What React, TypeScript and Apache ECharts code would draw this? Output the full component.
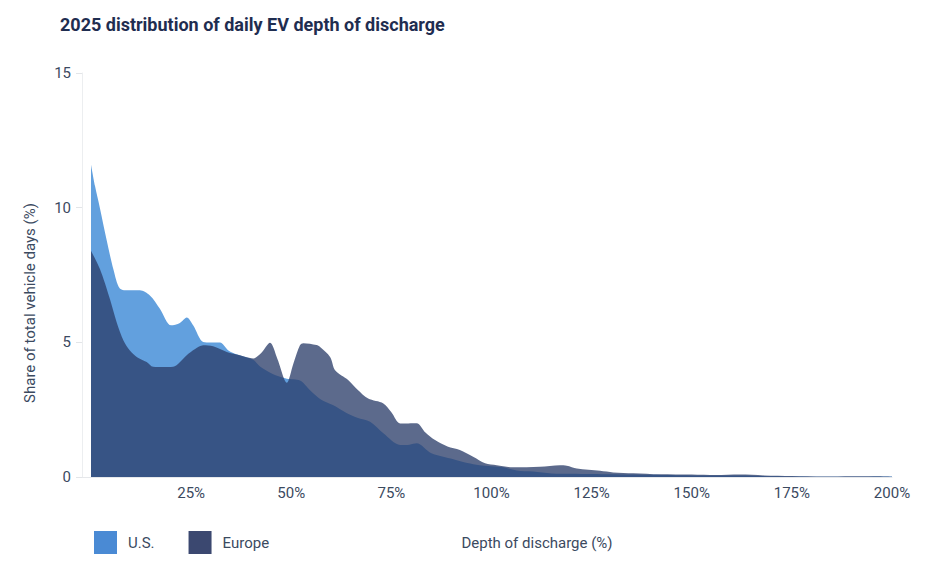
import React, { useEffect, useRef } from 'react';
import * as echarts from 'echarts';

// Depth of discharge (%) and share of vehicle days (%)
const usDepth = [
  0, 1, 2.2, 3.9, 5.6, 7.2, 9.5, 12.2, 14.7, 17.2, 20, 22.2, 23.9, 25.5, 28, 30, 32.2, 34.3,
  36.5, 40.5, 42.2, 45, 47.2, 48.9, 52.2, 54.7, 57.2, 60.4, 63.8, 66.5, 69.7, 73, 77.2, 79.5,
  81.3, 85, 90.5, 94, 97, 103, 106.3, 110.4, 115, 120, 130, 140, 150, 162, 170, 185, 200,
];
const usShare = [
  11.6, 10.8, 10.0, 8.8, 7.7, 7.0, 6.93, 6.93, 6.74, 6.25, 5.63, 5.72, 5.92, 5.63, 5.01, 4.99,
  4.99, 4.7, 4.55, 4.35, 4.1, 3.85, 3.72, 3.65, 3.58, 3.22, 2.9, 2.67, 2.38, 2.2, 2.05, 1.62,
  1.19, 1.2, 1.25, 0.88, 0.66, 0.52, 0.44, 0.36, 0.24, 0.2, 0.13, 0.12, 0.1, 0.08, 0.06, 0.06,
  0.03, 0.01, 0.02,
];

const euDepth = [
  0, 2.2, 4.7, 6.4, 8.1, 9.7, 11.5, 13.9, 15.5, 18, 20.5, 23.9, 26, 28, 30.5, 33.9, 37.2, 40.5,
  42.5, 44.7, 46.5, 48.9, 50.5, 52.2, 53, 56.3, 57.2, 59.7, 61, 64.2, 66.5, 69.2, 73, 75, 77.2,
  81.3, 83.5, 85.9, 89, 92.1, 95.4, 98.4, 101.3, 105.4, 112.1, 117.1, 118.8, 121.3, 127.1,
  130.4, 135.4, 142, 150, 156, 162, 168, 175, 183, 190, 196, 200,
];
const euShare = [
  8.4, 7.73, 6.62, 5.75, 5.07, 4.7, 4.45, 4.27, 4.09, 4.08, 4.09, 4.52, 4.75, 4.89, 4.85, 4.64,
  4.52, 4.4, 4.6, 4.98, 4.4, 3.5, 4.2, 4.9, 4.97, 4.9, 4.83, 4.46, 3.95, 3.6, 3.25, 2.91, 2.73,
  2.4, 1.99, 2.0, 1.65, 1.37, 1.13, 1.0, 0.75, 0.51, 0.44, 0.36, 0.38, 0.44, 0.42, 0.32, 0.23,
  0.17, 0.14, 0.1, 0.09, 0.07, 0.09, 0.06, 0.04, 0.02, 0.03, 0.03, 0.01,
];

// x tick labels shown on the axis
const depthTicks = [25, 50, 75, 100, 125, 150, 175, 200];

const seriesNames = ['U.S.', 'Europe'];

const textColor = '#3b4a5f';
const font = 'Roboto, "Noto Sans", sans-serif';

const App: React.FC = () => {
  const chartRef = useRef<HTMLDivElement>(null);

  useEffect(() => {
    if (!chartRef.current) return;
    const chart = echarts.init(chartRef.current, undefined, { renderer: 'svg' });

    const toPairs = (xs: number[], ys: number[]) => xs.map((x, i) => [x, ys[i]]);

    const option: echarts.EChartsOption = {
      animation: false,
      textStyle: { fontFamily: font },
      title: {
        text: '2025 distribution of daily EV depth of discharge',
        left: 55,
        top: 10,
        textStyle: { fontSize: 18, fontWeight: 'bold', color: '#1f2d50', fontFamily: font },
      },
      legend: {
        data: seriesNames,
        left: 89,
        top: 526,
        icon: 'rect',
        itemWidth: 23,
        itemHeight: 23,
        itemGap: 34,
        textStyle: { fontSize: 15, color: textColor, padding: [0, 0, 0, 6] },
      },
      grid: { left: 82, right: 44, top: 73, bottom: 93 },
      xAxis: {
        type: 'value',
        min: -2.25,
        max: 200,
        name: 'Depth of discharge (%)',
        nameLocation: 'middle',
        nameGap: 58,
        nameTextStyle: { fontSize: 15, color: textColor, padding: [0, 0, 0, 100] },
        axisLine: { show: true, onZero: false, lineStyle: { color: '#e6e8eb' } },
        axisTick: { show: false },
        splitLine: { show: false },
        axisLabel: {
          customValues: depthTicks,
          formatter: '{value}%',
          fontSize: 15,
          color: textColor,
          margin: 8,
        },
      },
      yAxis: {
        type: 'value',
        min: 0,
        max: 15,
        interval: 5,
        name: 'Share of total vehicle days (%)',
        nameLocation: 'middle',
        nameGap: 45,
        nameTextStyle: { fontSize: 15, color: textColor, padding: [0, 56, 0, 0] },
        axisLine: { show: true, onZero: false, lineStyle: { color: '#eceef0' } },
        axisTick: { show: true, length: 6, lineStyle: { color: '#e3e5e8' } },
        splitLine: { show: false },
        axisLabel: { fontSize: 15, color: textColor, margin: 11 },
      },
      series: [
        {
          name: seriesNames[0],
          type: 'line',
          smooth: 0.3,
          showSymbol: false,
          data: toPairs(usDepth, usShare),
          itemStyle: { color: '#4a8ad4' },
          lineStyle: { width: 0 },
          areaStyle: { color: '#62a0de', opacity: 1 },
          z: 2,
        },
        {
          name: seriesNames[1],
          type: 'line',
          smooth: 0.3,
          showSymbol: false,
          data: toPairs(euDepth, euShare),
          itemStyle: { color: '#3b4870' },
          lineStyle: { width: 0 },
          areaStyle: { color: '#2b3d6a', opacity: 0.77 },
          z: 3,
        },
      ],
    };

    chart.setOption(option);
    return () => chart.dispose();
  }, []);

  return (
    <div
      ref={chartRef}
      style={{ position: 'absolute', left: 0, top: 0, width: 936, height: 570, background: '#fff' }}
    />
  );
};

export default App;
